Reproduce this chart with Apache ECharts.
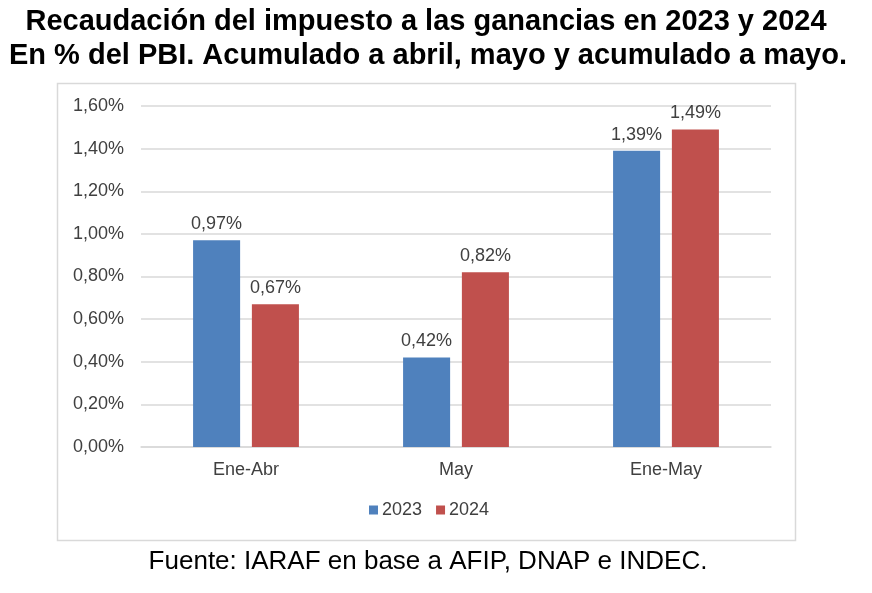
<!DOCTYPE html>
<html><head><meta charset="utf-8">
<script src="https://cdn.jsdelivr.net/npm/echarts@6/dist/echarts.min.js"></script>
<style>html,body{margin:0;padding:0;background:#fff}#c{width:872px;height:593px}</style>
</head><body><div id="c"></div>
<script>
const categories = ['Ene-Abr', 'May', 'Ene-May'];
const seriesNames = ['2023', '2024'];
const values2023 = [0.97, 0.42, 1.39];
const values2024 = [0.67, 0.82, 1.49];
const titleLines = ['Recaudación del impuesto a las ganancias en 2023 y 2024', 'En % del PBI. Acumulado a abril, mayo y acumulado a mayo.'];
const sourceText = 'Fuente: IARAF en base a AFIP, DNAP e INDEC.';

const fmt = v => v.toFixed(2).replace('.', ',') + '%';
const chart = echarts.init(document.getElementById('c'));
const labelStyle = {show: true, position: 'top', distance: 7, color: '#404040', fontSize: 18, fontFamily: 'Liberation Sans', formatter: p => fmt(p.value)};
chart.setOption({
  animation: false,
  backgroundColor: '#fff',
  graphic: [
    {type: 'rect', shape: {x: 57.5, y: 83.5, width: 738, height: 457}, style: {fill: 'none', stroke: '#d9d9d9', lineWidth: 1.5}, z: -1},
    {type: 'text', x: 426, y: 22, style: {text: titleLines[0], font: 'bold 29px "Liberation Sans"', fill: '#000', textAlign: 'center', textVerticalAlign: 'middle'}},
    {type: 'text', x: 428, y: 56, style: {text: titleLines[1], font: 'bold 29px "Liberation Sans"', fill: '#000', textAlign: 'center', textVerticalAlign: 'middle'}},
    {type: 'text', x: 428, y: 562, style: {text: sourceText, font: '26px "Liberation Sans"', fill: '#000', textAlign: 'center', textVerticalAlign: 'middle'}}
  ],
  legend: {data: seriesNames, top: 496, left: 364, itemWidth: 9, itemHeight: 9, itemGap: 14, icon: 'rect',
    textStyle: {color: '#404040', fontSize: 18, fontFamily: 'Liberation Sans', padding: [0, 0, 0, -1]}},
  grid: {left: 141, right: 101, top: 106, bottom: 146, containLabel: false},
  xAxis: {type: 'category', data: categories,
    axisLine: {show: true, lineStyle: {color: '#d9d9d9', width: 1.5}}, axisTick: {show: false},
    axisLabel: {color: '#404040', fontSize: 18, fontFamily: 'Liberation Sans', margin: 14}},
  yAxis: {type: 'value', min: 0, max: 1.6, interval: 0.2,
    axisLine: {show: false}, axisTick: {show: false},
    splitLine: {lineStyle: {color: '#d9d9d9', width: 1.5}},
    axisLabel: {color: '#404040', fontSize: 18, fontFamily: 'Liberation Sans', margin: 17, formatter: v => fmt(v)}},
  series: [
    {name: seriesNames[0], type: 'bar', data: values2023, barWidth: '22.4%', barGap: '25%', itemStyle: {color: '#4f81bd'}, label: labelStyle},
    {name: seriesNames[1], type: 'bar', data: values2024, barWidth: '22.4%', barGap: '25%', itemStyle: {color: '#c0504d'}, label: labelStyle}
  ]
});
</script></body></html>
